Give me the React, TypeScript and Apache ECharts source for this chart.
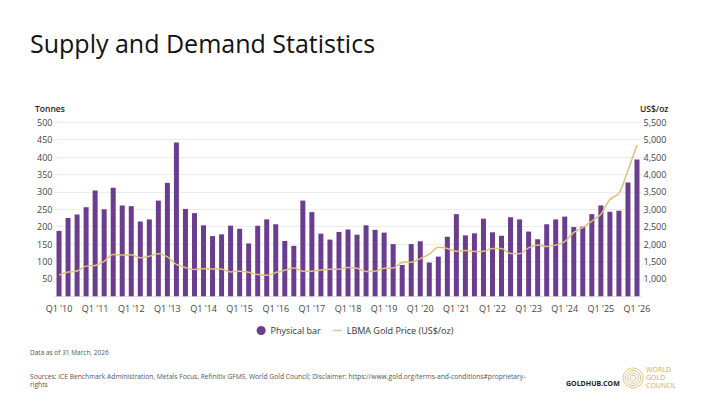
import React, { useEffect, useRef } from "react";
import * as echarts from "echarts";

const years = ["10","11","12","13","14","15","16","17","18","19","20","21","22","23","24","25","26"];
const categories: string[] = [];
years.forEach((y, yi) => {
  const n = yi === years.length - 1 ? 1 : 4;
  for (let q = 1; q <= n; q++) categories.push(`Q${q} '${y}`);
});

const physicalBar = [
  188, 225, 235, 256,
  304, 250, 312, 261,
  259, 215, 221, 275,
  326, 442, 251, 239,
  204, 173, 178, 203,
  194, 152, 203, 221,
  207, 159, 145, 275,
  242, 180, 163, 185,
  192, 177, 204, 191,
  183, 150, 90, 150,
  158, 97, 114, 171,
  236, 175, 181, 223,
  184, 174, 227, 221,
  186, 164, 207, 221,
  229, 199, 200, 236,
  261, 243, 246, 327,
  393,
];

const goldPrice = [
  1109, 1197, 1227, 1367,
  1386, 1506, 1702, 1688,
  1691, 1609, 1652, 1722,
  1632, 1415, 1326, 1272,
  1293, 1288, 1282, 1201,
  1218, 1192, 1124, 1106,
  1183, 1250, 1310, 1222,
  1219, 1257, 1278, 1275,
  1329, 1306, 1213, 1220,
  1304, 1310, 1472, 1481,
  1583, 1711, 1909, 1874,
  1794, 1816, 1789, 1795,
  1874, 1871, 1729, 1726,
  1890, 1976, 1929, 1971,
  2070, 2338, 2474, 2663,
  2860, 3280, 3457, 4120,
  4850,
];

const FONT = "'Open Sans', 'Noto Sans', sans-serif";
const PURPLE = "#6B3D8F";
const GOLD = "#E3BE7C";

export default function App() {
  const ref = useRef<HTMLDivElement>(null);
  useEffect(() => {
    if (!ref.current) return;
    const chart = echarts.init(ref.current, undefined, { renderer: "svg" });
    chart.setOption({
      animation: false,
      backgroundColor: "#ffffff",
      textStyle: { fontFamily: FONT },
      grid: { left: 54.5, right: 68.5, top: 122.3, bottom: 103.7, containLabel: false },
      legend: {
        top: 321,
        left: "center",
        itemGap: 12,
        itemWidth: 9,
        itemHeight: 9,
        textStyle: { fontFamily: FONT, fontSize: 9, color: "#333" },
        data: [
          { name: "Physical bar", icon: "circle" },
          { name: "LBMA Gold Price (US$/oz)", icon: "path://M0,4 L10,4 L10,5.5 L0,5.5 Z" },
        ],
      },
      xAxis: {
        type: "category",
        data: categories,
        axisTick: { show: false },
        axisLine: { show: true, lineStyle: { color: "#e6e6e6" } },
        axisLabel: { interval: 3, fontSize: 9, color: "#444", margin: 8, fontFamily: FONT },
      },
      yAxis: [
        {
          type: "value",
          min: 0,
          max: 500,
          interval: 50,
          axisLine: { show: false },
          axisTick: { show: false },
          splitLine: { lineStyle: { color: "#ececec", width: 1 } },
          axisLabel: { showMinLabel: false, fontSize: 9, color: "#444", margin: 2, fontFamily: FONT },
        },
        {
          type: "value",
          min: 500,
          max: 5500,
          interval: 500,
          axisLine: { show: false },
          axisTick: { show: false },
          splitLine: { show: false },
          axisLabel: {
            showMinLabel: false,
            fontSize: 9,
            color: "#444",
            margin: 2,
            fontFamily: FONT,
            formatter: (v: number) => v.toLocaleString("en-US"),
          },
        },
      ],
      series: [
        {
          name: "Physical bar",
          type: "bar",
          data: physicalBar,
          barWidth: 5,
          itemStyle: { color: PURPLE },
        },
        {
          name: "LBMA Gold Price (US$/oz)",
          type: "line",
          yAxisIndex: 1,
          data: goldPrice,
          smooth: 0.3,
          showSymbol: false,
          symbol: "none",
          itemStyle: { color: GOLD },
          lineStyle: { color: GOLD, width: 1.5 },
        },
      ],
      graphic: [
        { type: "text", left: 30, top: 30, style: { text: "Supply and Demand Statistics", fontFamily: FONT, fontSize: 25, fill: "#111" } },
        { type: "text", left: 35, top: 104, style: { text: "Tonnes", fontFamily: FONT, fontSize: 8.5, fontWeight: 600, fill: "#222" } },
        { type: "text", left: 640, top: 104, style: { text: "US$/oz", fontFamily: FONT, fontSize: 8.5, fontWeight: 600, fill: "#222" } },
        { type: "text", left: 30, top: 349, style: { text: "Data as of 31 March, 2026", fontFamily: FONT, fontSize: 6.5, fill: "#555" } },
        { type: "text", left: 30, top: 373, style: { text: "Sources: ICE Benchmark Administration, Metals Focus, Refinitiv GFMS, World Gold Council; Disclaimer: https://www.gold.org/terms-and-conditions#proprietary-", fontFamily: FONT, fontSize: 6.7, fill: "#555" } },
        { type: "text", left: 30, top: 381, style: { text: "rights", fontFamily: FONT, fontSize: 6.7, fill: "#555" } },
        { type: "text", left: 566, top: 380, style: { text: "GOLDHUB.COM", fontFamily: FONT, fontSize: 7, fontWeight: 700, fill: "#222" } },
        { type: "circle", shape: { cx: 633, cy: 378, r: 10 }, style: { fill: "none", stroke: "#D9B46E", lineWidth: 0.8 } },
        { type: "circle", shape: { cx: 633, cy: 378, r: 7.6 }, style: { fill: "none", stroke: "#D9B46E", lineWidth: 0.8 } },
        { type: "circle", shape: { cx: 633, cy: 378, r: 5.2 }, style: { fill: "none", stroke: "#D9B46E", lineWidth: 0.8 } },
        { type: "circle", shape: { cx: 633, cy: 378, r: 2.8 }, style: { fill: "none", stroke: "#D9B46E", lineWidth: 0.8 } },
        { type: "text", left: 646, top: 366, style: { text: "WORLD", fontFamily: FONT, fontSize: 7, fill: "#D2A85E" } },
        { type: "text", left: 646, top: 374, style: { text: "GOLD", fontFamily: FONT, fontSize: 7, fill: "#D2A85E" } },
        { type: "text", left: 646, top: 382, style: { text: "COUNCIL", fontFamily: FONT, fontSize: 7, fill: "#D2A85E" } },
      ],
    });
    return () => chart.dispose();
  }, []);
  return (
    <div
      ref={ref}
      style={{ position: "absolute", left: 0, top: 0, width: 710, height: 400, background: "#fff" }}
    />
  );
}
